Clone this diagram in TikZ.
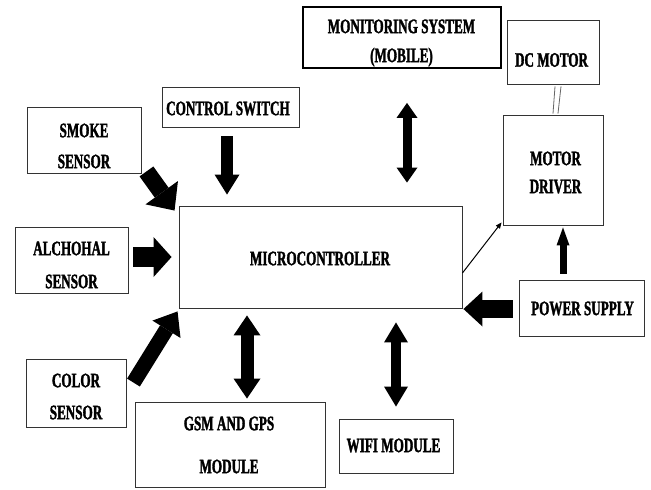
\documentclass[tikz,border=0pt]{standalone}
\usepackage{fontspec}
\newfontfamily\condfont[FakeStretch=0.64,BoldFeatures={FakeBold=1.6}]{Liberation Serif}
\usetikzlibrary{arrows.meta,calc}
\tikzset{
  box/.style={draw=black!80, line width=0.9pt, inner sep=0pt, rectangle},
  txt/.style={font=\condfont\bfseries\fontsize{20.5}{31}\selectfont, align=center, inner sep=0pt, text=black},
  fatarrow/.style n args={3}{line width=#1, -{Triangle[width=#2,length=#3,line width=0pt]}},
  dblarrow/.style n args={3}{line width=#1, {Triangle[width=#2,length=#3,line width=0pt]}-{Triangle[width=#2,length=#3,line width=0pt]}},
}
\begin{document}
\begin{tikzpicture}[x=1pt,y=-1pt]
\useasboundingbox[fill=white] (0,0) rectangle (651,490);
% boxes
\node[box, minimum width=114pt, minimum height=66pt] (smoke) at (84,140) {};
\node[box, minimum width=113pt, minimum height=66pt] (alch) at (71.5,260) {};
\node[box, minimum width=100pt, minimum height=68pt] (color) at (76,393) {};
\node[box, minimum width=190pt, minimum height=85pt] (gsm) at (230,444.5) {};
\node[box, minimum width=114pt, minimum height=54pt] (wifi) at (396,446) {};
\node[box, minimum width=283pt, minimum height=102pt] (mcu) at (320.5,257) {};
\node[box, minimum width=137pt, minimum height=40pt] (ctrl) at (230.5,107) {};
\node[box, draw=black, line width=1.8pt, minimum width=198pt, minimum height=61pt] (mon) at (402,37.5) {};
\node[box, minimum width=92pt, minimum height=64pt] (dc) at (553,52) {};
\node[box, minimum width=100pt, minimum height=110pt] (md) at (553,170) {};
\node[box, minimum width=125pt, minimum height=56pt] (ps) at (581.5,308) {};
% texts
\node[txt] (smoket) at (84,146) {SMOKE\\SENSOR};
\node[txt] (alcht) at (71.5,265) {ALCHOHAL\\[2pt]SENSOR};
\node[txt] (colort) at (76,396.5) {COLOR\\[1pt]SENSOR};
\node[txt] (gsmt) at (229,445) {GSM AND GPS\\[12pt]MODULE};
\node[txt] (wifit) at (393.5,445.5) {WIFI MODULE};
\node[txt] (mcut) at (320,258.5) {MICROCONTROLLER};
\node[txt] (ctrlt) at (228,108.5) {CONTROL SWITCH};
\node[txt] (mont) at (401.5,43) {MONITORING SYSTEM\\[-2pt](MOBILE)};
\node[txt] (dct) at (551.5,60) {DC MOTOR};
\node[txt] (mdt) at (555.5,172.5) {MOTOR\\[-3pt]DRIVER};
\node[txt] (pst) at (582.5,308.5) {POWER SUPPLY};
% arrows
\draw[fatarrow={17pt}{40pt}{22pt}] ($(smoke.south east)+(5,-2)$) -- ($(mcu.north west)+(-4,5)$);
\draw[fatarrow={20pt}{40pt}{18pt}] ($(alch.east)+(5,-3)$) coordinate (a2) -- ($(a2 -| mcu.west)+(-7,0)$);
\draw[fatarrow={15pt}{33pt}{21pt}] ($(color.north east)+(7,24)$) -- ($(mcu.south west)+(-1,3)$);
\draw[fatarrow={12pt}{25pt}{20pt}] ($(ctrl.south)+(-3.5,9)$) coordinate (a4) -- ($(a4 |- mcu.north)+(0,-11)$);
\draw[dblarrow={9pt}{21pt}{15pt}] ($(mon.south)+(5,34)$) coordinate (a5) -- ($(a5 |- mcu.north)+(0,-23)$);
\draw[dblarrow={13pt}{27pt}{20pt}] ($(gsm.north)+(17,-3)$) coordinate (a6) -- ($(a6 |- mcu.south)+(0,7)$);
\draw[dblarrow={10pt}{24pt}{20pt}] ($(wifi.north)+(0,-12)$) coordinate (a7) -- ($(a7 |- mcu.south)+(0,14)$);
\draw[fatarrow={7pt}{13pt}{18pt}] ($(ps.north)+(-18.5,-6)$) coordinate (a8) -- ($(a8 |- md.south)+(0,2)$);
\draw[fatarrow={18pt}{35pt}{19pt}] ($(ps.west)+(-6,1)$) coordinate (a9) -- ($(a9 -| mcu.east)+(1,0)$);
\draw[line width=1pt, -{Triangle[width=5pt,length=6pt]}] ($(mcu.east)+(0,16)$) -- ($(md.south west)+(-1,-3)$);
\draw[black!60, line width=0.8pt] ($(dc.south)+(2,2)$) -- ($(md.north)+(0,-1)$);
\draw[black!60, line width=0.8pt] ($(dc.south)+(8,2)$) -- ($(md.north)+(5,-1)$);
\end{tikzpicture}
\end{document}
